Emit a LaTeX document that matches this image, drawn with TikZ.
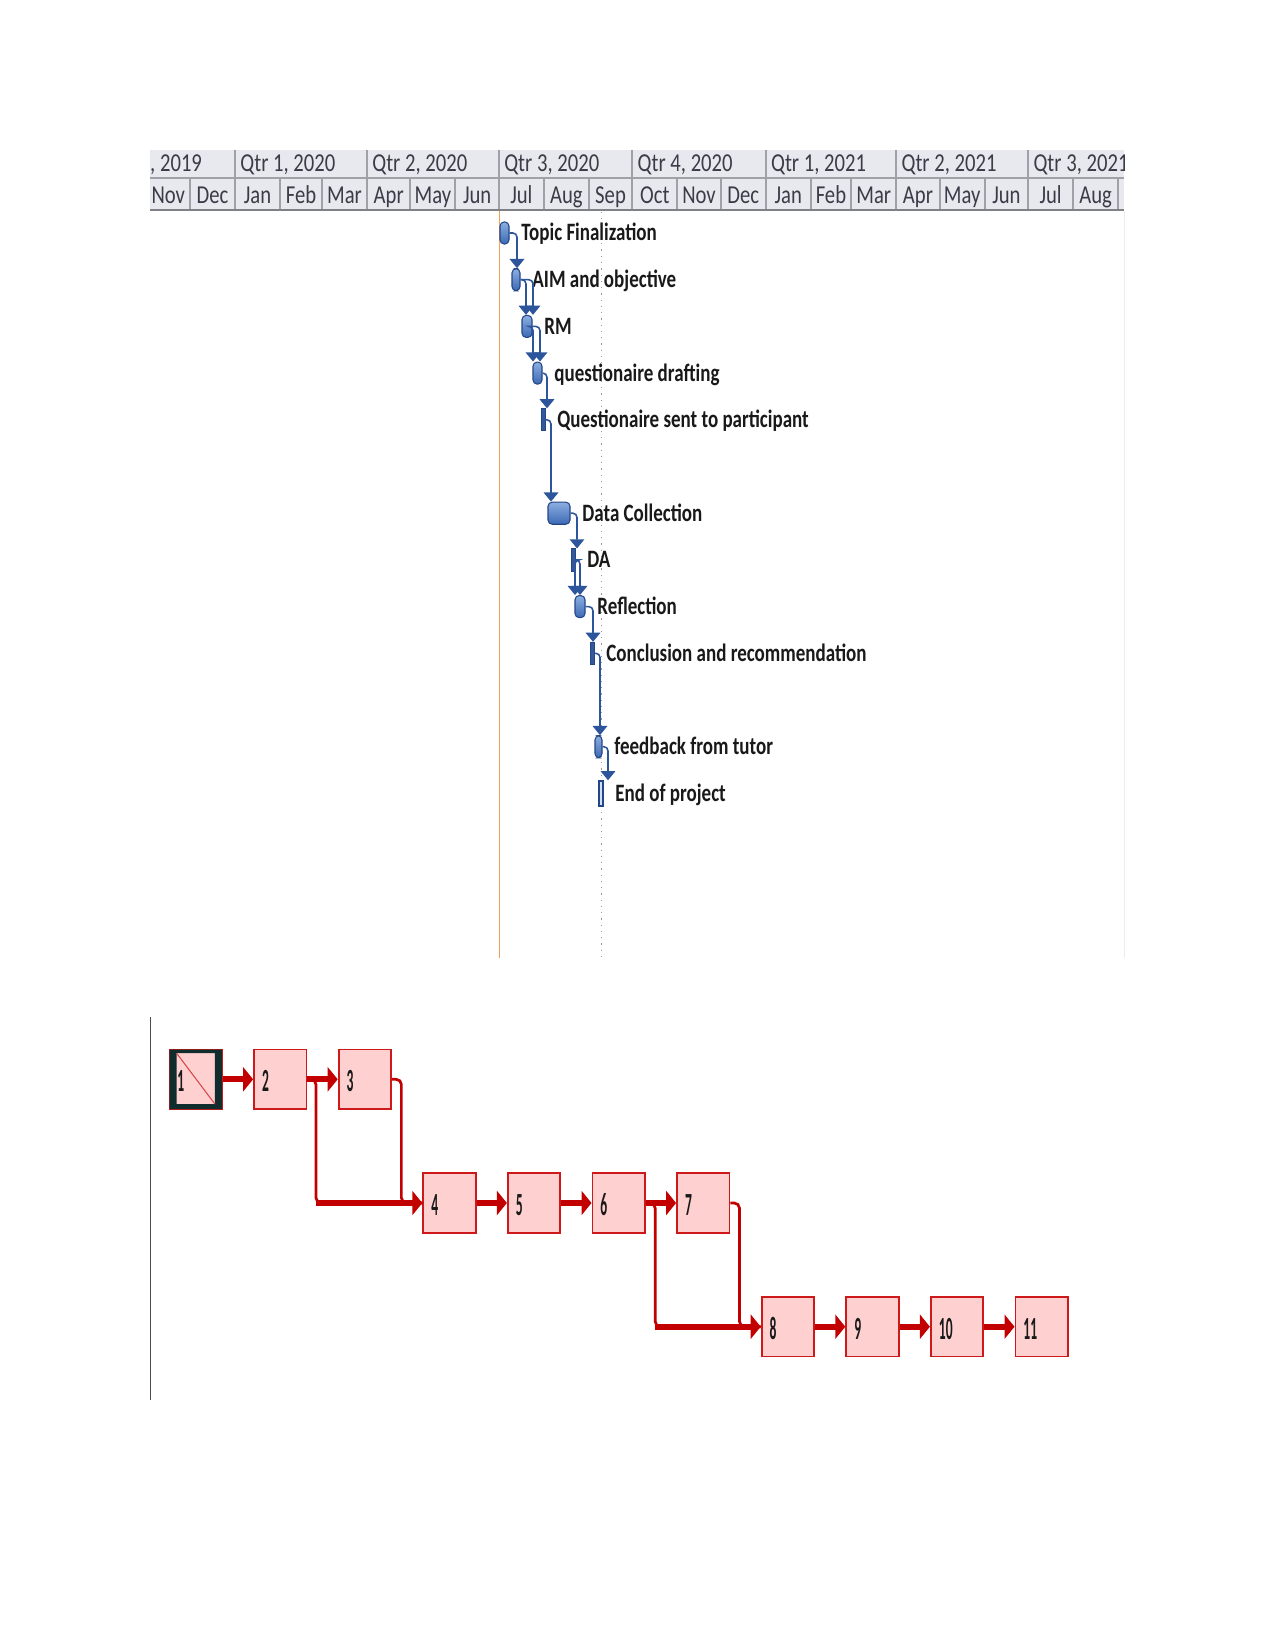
\documentclass[tikz,border=0pt]{standalone}
\usepackage{fontspec}
\setmainfont{Carlito}
\newfontfamily\ganttfont[FakeStretch=0.76]{Carlito}
\newfontfamily\headfont[FakeStretch=0.8]{Carlito}
\newfontfamily\boxfont[FakeStretch=0.42]{Carlito}
\usetikzlibrary{arrows.meta}

\definecolor{headbg}{RGB}{232,233,238}
\definecolor{headline}{RGB}{160,161,168}
\definecolor{headtext}{RGB}{60,60,72}
\definecolor{barlight}{RGB}{140,175,225}
\definecolor{barfill}{RGB}{60,105,180}
\definecolor{barline}{RGB}{35,70,135}
\definecolor{linkblue}{RGB}{45,85,155}
\definecolor{todayline}{RGB}{240,160,90}
\definecolor{pinkfill}{RGB}{255,208,208}
\definecolor{boxred}{RGB}{205,25,25}
\definecolor{critred}{RGB}{195,0,0}
\definecolor{boxdark}{RGB}{16,44,44}

\tikzset{
  bar/.style={draw=barline, line width=0.5pt, rounded corners=2pt, top color=barlight, bottom color=barfill, minimum height=10.6pt, inner sep=0pt},
  thinbar/.style={draw=barline, fill=barfill!85!black, line width=0.4pt, minimum height=10.6pt, inner sep=0pt},
  endbar/.style={draw=barline, fill=barlight!40, line width=0.6pt, minimum height=12pt, inner sep=0pt},
  tasklabel/.style={anchor=base west, inner sep=0pt, font=\ganttfont\bfseries\fontsize{12}{14}\selectfont, text=black!90},
  hdr/.style={anchor=base west, inner sep=0pt, font=\headfont\fontsize{12.4}{14}\selectfont, text=headtext},
  link/.style={draw=linkblue, line width=0.75pt, rounded corners=2pt, -{Triangle[length=4.4pt,width=7pt]}},
  netbox/.style={draw=boxred, line width=0.9pt, fill=pinkfill, minimum width=25.2pt, minimum height=28.6pt, text width=17.5pt, inner xsep=3.84pt, inner ysep=0pt, align=left, text height=12pt, text depth=0pt, font=\boxfont\bfseries\fontsize{15.5}{15.5}\selectfont, text=black!90},
  crit/.style={draw=critred, line width=2.8pt, -{Triangle[length=4.8pt,width=11.5pt]}},
  critthin/.style={draw=critred, line width=1.3pt, rounded corners=2.5pt}
}

\begin{document}
\begin{tikzpicture}[x=0.48pt,y=-0.48pt]
  \useasboundingbox (0,0) rectangle (1275,1651);
  \fill[white] (0,0) rectangle (1275,1651);

  % timescale
  \fill[headbg] (150,150) rectangle (1124,210);
  \begin{scope}
    \clip (150,150) rectangle (1124,210);
    \foreach \d in {-92,0,91,182,274,366,456,547,639}
      \draw[headline, line width=1pt] ({235+1.45*(\d)},150) -- ({235+1.45*(\d)},178);
    \foreach \d/\q [count=\k] in {-92/{Qtr 4, 2019}, 0/{Qtr 1, 2020}, 91/{Qtr 2, 2020}, 182/{Qtr 3, 2020}, 274/{Qtr 4, 2020}, 366/{Qtr 1, 2021}, 456/{Qtr 2, 2021}, 547/{Qtr 3, 2021}}
      \node[hdr] (qtr\k) at ({240+1.45*(\d)},172) {\q};
    \foreach \d/\e/\m [count=\k] in {-61/-31/Nov, -31/0/Dec, 0/31/Jan, 31/60/Feb, 60/91/Mar, 91/121/Apr, 121/152/May, 152/182/Jun, 182/213/Jul, 213/244/Aug, 244/274/Sep, 274/305/Oct, 305/335/Nov, 335/366/Dec, 366/397/Jan, 397/425/Feb, 425/456/Mar, 456/486/Apr, 486/517/May, 517/547/Jun, 547/578/Jul, 578/609/Aug}
    {
      \draw[headline, line width=1pt] ({235+1.45*(\d)},178) -- ({235+1.45*(\d)},210);
      \node[hdr, anchor=base] (mon\k) at ({235+1.45*(\d+\e)/2},204) {\m};
    }
    \draw[headline, line width=1pt] ({235+1.45*609},178) -- ({235+1.45*609},210);
  \end{scope}
  \draw[headline, line width=1pt] (150,178) -- (1124,178);
  \draw[headline!80!black, line width=1pt] (150,210) -- (1124,210);

  % chart area
  \draw[todayline, line width=0.7pt] (499.5,211) -- (499.5,958);
  \draw[gray!80, line width=0.7pt, dash pattern=on 0.6pt off 2.4pt] (601.5,212) -- (601.5,958);
  \draw[gray!15, line width=0.6pt] (1124.5,211) -- (1124.5,958);

  % tasks
  \foreach \i/\r/\xa/\xb/\kind/\txt in {1/0/500/509/bar/Topic Finalization, 2/1/512/520/bar/AIM and objective, 3/2/522/532/bar/RM, 4/3/533/542/bar/questionaire drafting, 5/4/541/545/thinbar/Questionaire sent to participant, 6/6/548/570/bar/Data Collection, 7/7/571/575/thinbar/DA, 8/8/575/585/bar/Reflection, 9/9/590/594/thinbar/Conclusion and recommendation, 10/11/595/602/bar/feedback from tutor, 11/12/599/603/endbar/End of project}
  {
    \node[\kind, minimum width={(\xb-\xa)*0.48pt}] (t\i) at ({(\xa+\xb)/2},{233+46.7*\r}) {};
    \node[tasklabel] (l\i) at ({\xb+12},{241+46.7*\r}) {\txt};
  }

  % links
  \foreach \a/\b/\xd in {1/2/517, 2/3/526, 2/3/533, 3/4/533, 3/4/540, 4/5/547, 5/6/551, 6/7/577, 7/8/575, 7/8/580, 8/9/593, 9/10/600, 10/11/608}
    \draw[link] (t\a.east) -| (t\b.north -| \xd,0);

  % network diagram
  \draw[black!70, line width=0.6pt] (150.5,1017) -- (150.5,1400);
  \foreach \k/\r in {1/0,2/0,3/0,4/1,5/1,6/1,7/1,8/2,9/2,10/2,11/2}
    \node[netbox] (n\k) at ({195.7+84.6*(\k-1)},{1079.3+123.7*\r}) {\k};
  \fill[boxdark, even odd rule] ([shift={(1,1)}]n1.north west) rectangle ([shift={(-1,-1)}]n1.south east)
    ([shift={(8,4.5)}]n1.north west) rectangle ([shift={(-8,-6)}]n1.south east);
  \draw[boxred!80, line width=0.5pt] ([shift={(8,4.5)}]n1.north west) -- ([shift={(-8,-6)}]n1.south east);

  \draw[critthin] (n2.east) -- ++(8.5,0) coordinate (k24) |- (n4.west);
  \draw[critthin] (n3.east) -- ++(9.3,0) |- (n4.west);
  \draw[critthin] (n6.east) -- ++(9.3,0) coordinate (k68) |- (n8.west);
  \draw[critthin] (n7.east) -- ++(9,0) |- (n8.west);
  \draw[crit] (k24 |- n4.west) -- (n4.west);
  \draw[crit] (k68 |- n8.west) -- (n8.west);
  \foreach \a/\b in {1/2,2/3,4/5,5/6,6/7,8/9,9/10,10/11}
    \draw[crit] (n\a) -- (n\b);
\end{tikzpicture}
\end{document}
